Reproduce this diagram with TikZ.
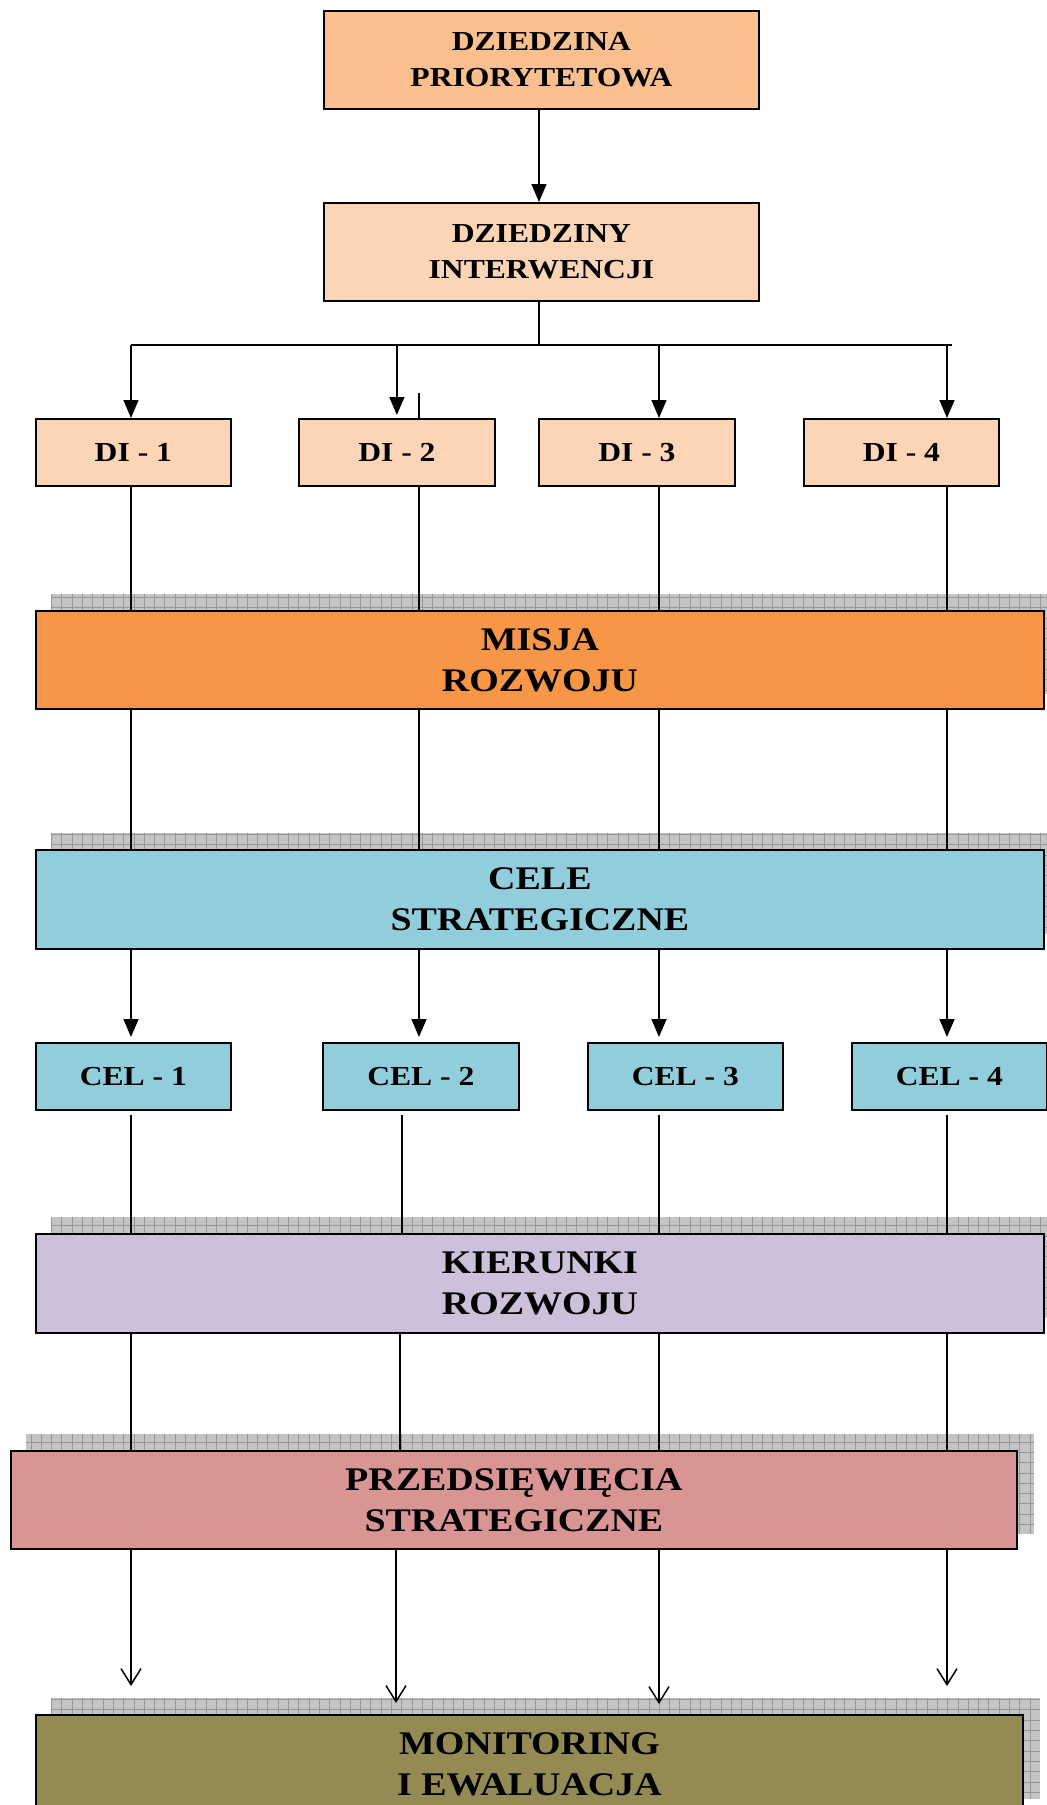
\documentclass[tikz,border=0pt]{standalone}
\usepackage{fontspec}
\setmainfont{Liberation Serif}[FakeStretch=1.15]
\usetikzlibrary{arrows.meta,backgrounds}
\definecolor{cA}{RGB}{250,191,143}
\definecolor{cB}{RGB}{251,213,181}
\definecolor{cMis}{RGB}{247,150,70}
\definecolor{cCel}{RGB}{146,205,220}
\definecolor{cKier}{RGB}{204,192,218}
\definecolor{cPrz}{RGB}{217,149,148}
\definecolor{cMon}{RGB}{148,138,84}
\definecolor{shfill}{RGB}{196,196,196}
\definecolor{shgrid}{RGB}{150,150,150}
\begin{document}
\begin{tikzpicture}[x=1pt,y=-1pt,
  box/.style={draw=black, line width=1.8pt, anchor=north west, inner sep=0pt, align=center,
    font={\fontsize{27.5}{36}\selectfont\bfseries}},
  bigbox/.style={box, font={\fontsize{33}{41}\selectfont\bfseries}},
  conn/.style={line width=1.5pt, draw=black},
  arr/.style={conn, -{Triangle[length=18pt,width=15pt]}},
  oarr/.style={conn, -{Straight Barb[length=16pt,width=20pt]}}]
\useasboundingbox (0,0) rectangle (1047,1805);

% top boxes
\node[box, fill=cA, minimum width=435pt, minimum height=98pt] (dp) at (323,10) {DZIEDZINA\\PRIORYTETOWA};
\node[box, fill=cB, minimum width=435pt, minimum height=98pt] (di) at (323,202) {DZIEDZINY\\INTERWENCJI};

% DI boxes
\node[box, fill=cB, minimum width=195pt, minimum height=67pt] (DI1) at (35,418) {DI - 1};
\node[box, fill=cB, minimum width=196pt, minimum height=67pt] (DI2) at (298,418) {DI - 2};
\node[box, fill=cB, minimum width=196pt, minimum height=67pt] (DI3) at (538,418) {DI - 3};
\node[box, fill=cB, minimum width=195pt, minimum height=67pt] (DI4) at (803,418) {DI - 4};

% big boxes
\node[bigbox, fill=cMis, minimum width=1008pt, minimum height=98pt] (misja) at (35,610) {MISJA\\ROZWOJU};
\node[bigbox, fill=cCel, minimum width=1008pt, minimum height=99pt] (cele) at (35,849) {CELE\\STRATEGICZNE};

% CEL boxes
\node[box, fill=cCel, minimum width=195pt, minimum height=67pt] (CEL1) at (35,1042) {CEL - 1};
\node[box, fill=cCel, minimum width=196pt, minimum height=67pt] (CEL2) at (322,1042) {CEL - 2};
\node[box, fill=cCel, minimum width=195pt, minimum height=67pt] (CEL3) at (587,1042) {CEL - 3};
\node[box, fill=cCel, minimum width=195pt, minimum height=67pt] (CEL4) at (851,1042) {CEL - 4};

\node[bigbox, fill=cKier, minimum width=1008pt, minimum height=99pt] (kier) at (35,1233) {KIERUNKI\\ROZWOJU};
\node[bigbox, fill=cPrz, minimum width=1006pt, minimum height=98pt] (przed) at (10,1450) {PRZEDSIĘWIĘCIA\\STRATEGICZNE};
\node[bigbox, fill=cMon, minimum width=987pt, minimum height=99pt] (monit) at (35,1714) {MONITORING\\I EWALUACJA};

% shadows
\begin{scope}[on background layer]
  \foreach \n in {misja,cele,kier,przed,monit} {
    \path (\n.north west) ++(16,-16) coordinate (sa);
    \path (\n.south east) ++(16,-16) coordinate (sb);
    \begin{scope}
      \clip (sa) rectangle (sb);
      \fill[shfill] (sa) rectangle (sb);
      \draw[shgrid, line width=0.8pt, step=10.3pt] (sa |- sb) grid (sb |- sa);
    \end{scope}
  }
\end{scope}

% column coordinates
\coordinate (k1) at (131,0);
\coordinate (k2) at (419,0);
\coordinate (k3) at (659,0);
\coordinate (k4) at (947,0);
\coordinate (m1) at (131,0);
\coordinate (m2) at (402,0);
\coordinate (m3) at (659,0);
\coordinate (m4) at (947,0);
\coordinate (n1) at (131,0);
\coordinate (n2) at (400,0);
\coordinate (n3) at (659,0);
\coordinate (n4) at (947,0);

% top connectors
\draw[arr] (dp.south -| 539,0) -- (di.north -| 539,0);
\coordinate (hl) at (131,345);
\coordinate (hr) at (952,345);
\coordinate (hm) at (539,345);
\draw[conn] (di.south -| hm) -- (hm);
\draw[conn] (hl) -- (hr);
\draw[arr] (hl) -- (DI1.north -| hl);
\draw[arr] (DI2.north |- hl) -- ([yshift=3pt]DI2.north);
\draw[arr] (k3 |- hl) -- (DI3.north -| k3);
\draw[arr] (k4 |- hl) -- (DI4.north -| k4);
\coordinate (stub) at (419,393);
\draw[conn] (stub) -- (DI2.north -| stub);

\foreach \i in {1,2,3,4} {
  \draw[conn] (DI\i.south -| k\i) -- (misja.north -| k\i);
  \draw[conn] (misja.south -| k\i) -- (cele.north -| k\i);
  \draw[arr, shorten >=5pt] (cele.south -| k\i) -- (CEL\i.north -| k\i);
  \draw[conn, shorten <=4pt] (CEL\i.south -| m\i) -- (kier.north -| m\i);
  \draw[conn] (kier.south -| n\i) -- (przed.north -| n\i);
}

% bottom open arrows
\coordinate (t1) at (131,1686);
\coordinate (t2) at (396,1703);
\coordinate (t3) at (659,1704);
\coordinate (t4) at (947,1686);
\foreach \i in {1,2,3,4} {
  \draw[oarr] (przed.south -| t\i) -- (t\i);
}
\end{tikzpicture}
\end{document}
